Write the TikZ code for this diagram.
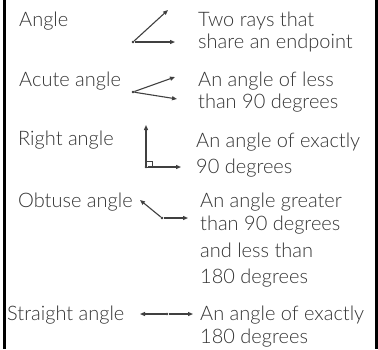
\documentclass[tikz,border=0pt]{standalone}
\usepackage{fontspec}
\setmainfont{Lato Light}
\usetikzlibrary{arrows.meta}
\tikzset{
  term/.style={anchor=base west, inner sep=0pt, text=black!80, font=\fontsize{20}{26}\selectfont},
  meaning/.style={term, align=left},
  ray/.style={-{Triangle[length=5pt,width=4pt]}, line width=1.1pt, draw=black!75},
  vertex/.style={circle, fill=black!80, inner sep=0pt, minimum size=2.6pt},
  frame/.style={line width=2.3pt}
}

\begin{document}
\begin{tikzpicture}[x=1pt,y=-1pt]
  \useasboundingbox (0,0) rectangle (378,349);
  \draw[frame] (4.5,0) -- (4.5,349);
  \draw[frame] (376.5,0) -- (376.5,349);

  % terms
  \node[term] (angle) at (19,26) {Angle};
  \node[term] (acute) at (19,86) {Acute angle};
  \node[term] (right) at (18,145) {Right angle};
  \node[term] (obtuse) at (18,207) {Obtuse angle};
  \node[term] (straight) at (7,320) {Straight angle};

  % meanings (placed by their last line)
  \node[meaning] (angledef) at (198,48) {Two rays that\\[-4pt]share an endpoint};
  \node[meaning] (acutedef) at (198,108) {An angle of less\\[-4pt]than 90 degrees};
  \node[meaning] (rightdef) at (196,173) {An angle of exactly\\90 degrees};
  \node[meaning] (obtusedef) at (200,283) {An angle greater\\[-3pt]than 90 degrees\\[1pt]and less than\\180 degrees};
  \node[meaning] (straightdef) at (200,343) {An angle of exactly\\[-3pt]180 degrees};

  % angle
  \node[vertex] (v1) at (133,42) {};
  \coordinate (v1a) at (168,10);
  \coordinate (v1b) at (175,42);
  \draw[ray] (v1) -- (v1a);
  \draw[ray] (v1) -- (v1b);

  % acute
  \node[vertex] (v2) at (133,92) {};
  \coordinate (v2a) at (175,77);
  \coordinate (v2b) at (177,99);
  \draw[ray] (v2) -- (v2a);
  \draw[ray] (v2) -- (v2b);

  % right
  \node[vertex] (v3) at (146,167) {};
  \coordinate (v3a) at (146,125);
  \coordinate (v3b) at (181,167);
  \draw[ray] (v3) -- (v3a);
  \draw[ray] (v3) -- (v3b);
  \draw[line width=0.8pt, black!75] (146,167) rectangle ++(6,-6);

  % obtuse
  \node[vertex] (v4) at (162,218) {};
  \coordinate (v4a) at (140,200);
  \coordinate (v4b) at (188,218);
  \draw[ray] (v4) -- (v4a);
  \draw[ray] (v4) -- (v4b);

  % straight
  \node[vertex] (v5) at (167,314) {};
  \coordinate (v5a) at (140,314);
  \coordinate (v5b) at (193,314);
  \draw[ray] (v5) -- (v5a);
  \draw[ray] (v5) -- (v5b);
\end{tikzpicture}
\end{document}
